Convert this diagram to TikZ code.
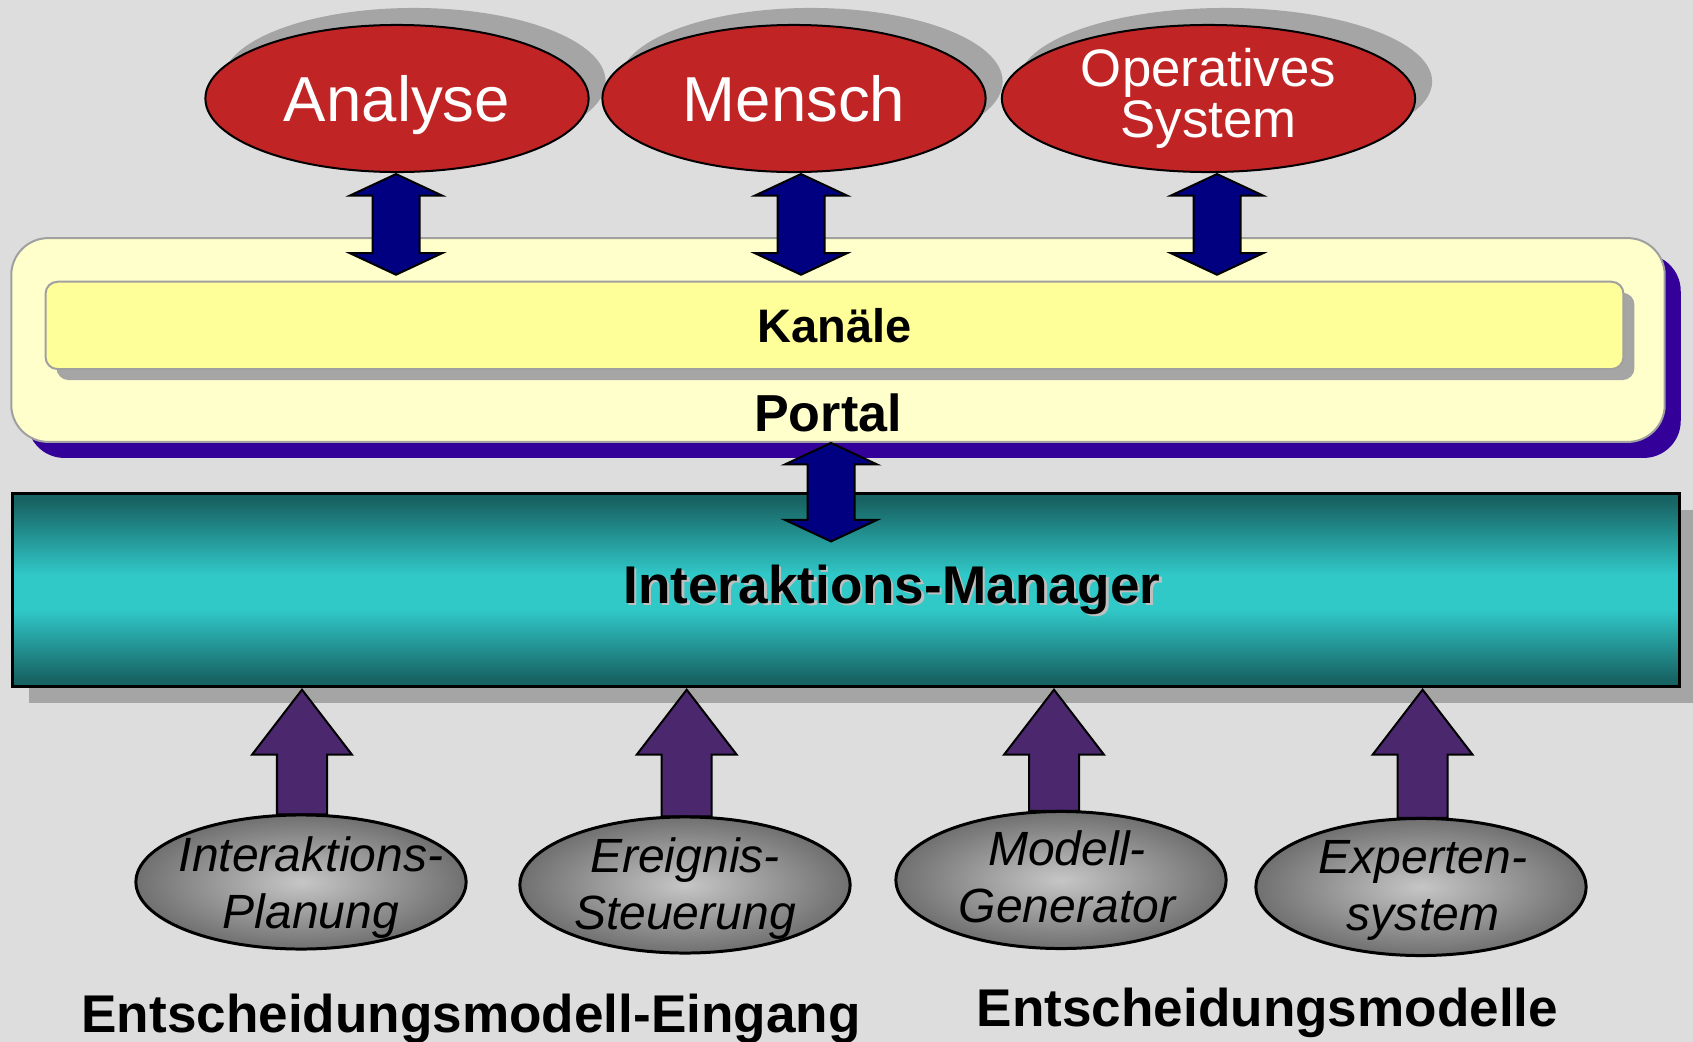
\documentclass[tikz,border=0pt]{standalone}
\usepackage{fontspec}
\setmainfont{Liberation Sans}
\usetikzlibrary{shapes.geometric,shadows,calc}

\definecolor{canvasgray}{HTML}{DDDDDD}
\definecolor{ovalred}{HTML}{C02424}
\definecolor{shadowgray}{HTML}{A5A5A5}
\definecolor{portalfill}{HTML}{FFFFCC}
\definecolor{channelfill}{HTML}{FFFF99}
\definecolor{framegray}{HTML}{A0A0A0}
\definecolor{portalshadow}{HTML}{330099}
\definecolor{navyblue}{HTML}{000080}
\definecolor{arrowpurple}{HTML}{4B286D}
\definecolor{tealdark}{HTML}{186464}
\definecolor{teallight}{HTML}{31C8C8}
\definecolor{ovalinner}{HTML}{C6C6C6}
\definecolor{ovalouter}{HTML}{707070}

% dark-bright-dark band for the manager bar
\pgfdeclareverticalshading{tealband}{100bp}{color(0bp)=(tealdark); color(27bp)=(tealdark); color(45bp)=(teallight); color(54bp)=(teallight); color(73bp)=(tealdark); color(100bp)=(tealdark)}

\pgfdeclarelayer{backdrop}
\pgfdeclarelayer{front}
\pgfsetlayers{backdrop,main,front}

\tikzset{
  redoval/.style={ellipse, draw=black, line width=0.57pt, fill=ovalred, text=white,
    inner sep=0pt, minimum height=1.47cm,
    drop shadow={shadow xshift=1.7mm, shadow yshift=1.7mm, fill=shadowgray, opacity=1}},
  grayoval/.style={ellipse, draw=black, line width=0.85pt, inner color=ovalinner,
    outer color=ovalouter, inner sep=0pt, minimum width=3.30cm},
  ovaltext/.style={inner sep=0pt, align=center,
    font=\fontsize{13.66pt}{16.2pt}\selectfont\itshape},
  portalbox/.style={rectangle, rounded corners=3.7mm, draw=framegray, line width=0.57pt,
    fill=portalfill, inner sep=0pt,
    drop shadow={shadow xshift=1.6mm, shadow yshift=-1.6mm, fill=portalshadow, opacity=1}},
  channelbox/.style={rectangle, rounded corners=1.2mm, draw=framegray, line width=0.57pt,
    fill=channelfill, inner sep=0pt, font=\fontsize{13.37pt}{16pt}\selectfont\bfseries,
    drop shadow={shadow xshift=1.1mm, shadow yshift=-1.1mm, fill=shadowgray, opacity=1}},
  managerbox/.style={rectangle, draw=black, line width=0.85pt, shade, shading=tealband,
    inner sep=0pt,
    drop shadow={shadow xshift=1.6mm, shadow yshift=-1.6mm, fill=shadowgray, opacity=1}},
  boldlabel/.style={inner sep=0pt, anchor=base, font=\fontsize{15.1pt}{18pt}\selectfont\bfseries},
  navyblock/.style={fill=navyblue, draw=black, line width=0.57pt, line join=miter},
  purpleblock/.style={fill=arrowpurple, draw=black, line width=0.57pt, line join=miter},
}

% vertical double block arrow: #1 upper tip, #2 lower tip
\newcommand\DoubleBlockArrow[2]{%
  \draw[navyblock] (#1) -- ($(#1)+(46,21.5)$) -- ($(#1)+(23.5,21.5)$)
    -- ($(#2)+(23.5,-21.5)$) -- ($(#2)+(46,-21.5)$) -- (#2)
    -- ($(#2)+(-46,-21.5)$) -- ($(#2)+(-23.5,-21.5)$)
    -- ($(#1)+(-23.5,21.5)$) -- ($(#1)+(-46,21.5)$) -- cycle;}

% upward block arrow: #1 tail centre, #2 tip
\newcommand\UpBlockArrow[2]{%
  \draw[purpleblock] (#2) -- ($(#2)+(50,65)$) -- ($(#2)+(25,65)$)
    -- ($(#1)+(25,0)$) -- ($(#1)+(-25,0)$)
    -- ($(#2)+(-25,65)$) -- ($(#2)+(-50,65)$) -- cycle;}

\begin{document}
\begin{tikzpicture}[x=0.01cm, y=-0.01cm]
\useasboundingbox (0,0) rectangle (1693,1042);
\begin{pgfonlayer}{backdrop}
  \fill[canvasgray] (0,0) rectangle (1693,1042);
\end{pgfonlayer}

% top row: actors
\node[redoval, minimum width=3.83cm, text depth=0pt, font=\fontsize{18.07pt}{21pt}\selectfont]
  (analyse) at (397,98.5) {Analyse};
\node[redoval, minimum width=3.83cm, text depth=0pt, font=\fontsize{18.07pt}{21pt}\selectfont]
  (mensch) at (794,98.5) {Mensch};
\node[redoval, minimum width=4.13cm, align=center, font=\fontsize{15pt}{14.7pt}\selectfont]
  (operativ) at (1208.5,98.5) {Operatives\\System};

% portal with channels
\node[portalbox, minimum width=16.525cm, minimum height=2.037cm] (portal) at (838,340) {};
\node[channelbox, minimum width=15.77cm, minimum height=0.873cm] (kanaele) at (834.5,325.4) {Kanäle};
\node[boldlabel, font=\fontsize{14.8pt}{18pt}\selectfont\bfseries] (portaltext) at (828,431.7) {Portal};

% interaction manager
\node[managerbox, minimum width=16.656cm, minimum height=1.927cm] (manager) at (846.2,590.3) {};
\node[boldlabel, text=black!25] (mgrshade) at (894.5,605.5) {Interaktions-Manager};
\node[boldlabel] (mgrtext) at (892,603) {Interaktions-Manager};

% decision model components
\begin{pgfonlayer}{front}
  \node[grayoval, minimum height=1.34cm] (planung) at (301,882) {};
  \node[grayoval, minimum height=1.36cm] (steuerung) at (685,885) {};
  \node[grayoval, minimum height=1.37cm] (generator) at (1061,880) {};
  \node[grayoval, minimum height=1.37cm] (experten) at (1421,887) {};
  \node[ovaltext] (planungtext) at ($(planung)+(10,5.5)$) {Interaktions-\\Planung};
  \node[ovaltext] (steuerungtext) at ($(steuerung)+(0,4)$) {Ereignis-\\Steuerung};
  \node[ovaltext] (generatortext) at ($(generator)+(6,-3.5)$) {Modell-\\Generator};
  \node[ovaltext] (expertentext) at ($(experten)+(2,3)$) {Experten-\\system};
\end{pgfonlayer}

\node[boldlabel] (inlabel) at (471,1032) {Entscheidungsmodell-Eingang};
\node[boldlabel] (modlabel) at (1267.5,1026) {Entscheidungsmodelle};

% actors <-> channels
\coordinate (ta) at ($(analyse.south)+(-1,1)$);
\coordinate (ba) at ($(ta |- kanaele.north)+(0,-6)$);
\coordinate (tm) at ($(mensch.south)+(7,1)$);
\coordinate (bm) at ($(tm |- kanaele.north)+(0,-6)$);
\coordinate (to) at ($(operativ.south)+(8.5,1)$);
\coordinate (bo) at ($(to |- kanaele.north)+(0,-6)$);
\DoubleBlockArrow{ta}{ba}
\DoubleBlockArrow{tm}{bm}
\DoubleBlockArrow{to}{bo}

% portal <-> manager
\coordinate (tp) at ($(portal.south)+(-7,0)$);
\coordinate (bp) at ($(tp |- manager.north)+(0,49)$);
\DoubleBlockArrow{tp}{bp}

% components -> manager
\coordinate (s1) at ($(planung.north)+(1,1)$);
\coordinate (h1) at ($(s1 |- manager.south)+(0,1.5)$);
\coordinate (s2) at ($(steuerung.north)+(1.7,1)$);
\coordinate (h2) at ($(s2 |- manager.south)+(0,1.5)$);
\coordinate (s3) at ($(generator.north)+(-7,1)$);
\coordinate (h3) at ($(s3 |- manager.south)+(0,1.5)$);
\coordinate (s4) at ($(experten.north)+(1.6,1)$);
\coordinate (h4) at ($(s4 |- manager.south)+(0,1.5)$);
\UpBlockArrow{s1}{h1}
\UpBlockArrow{s2}{h2}
\UpBlockArrow{s3}{h3}
\UpBlockArrow{s4}{h4}
\end{tikzpicture}
\end{document}
